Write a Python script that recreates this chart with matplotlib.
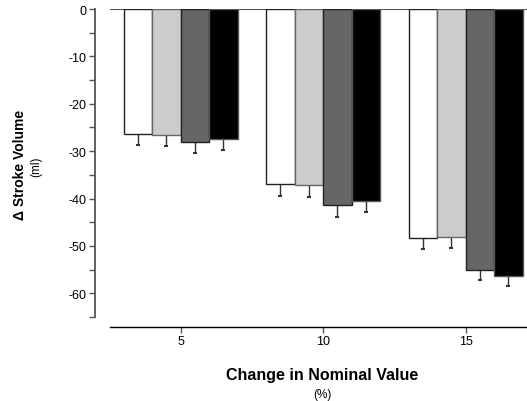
import numpy as np
import matplotlib
matplotlib.use("Agg")
import matplotlib.pyplot as plt
from matplotlib.ticker import MultipleLocator

plt.rcParams['font.family'] = ['Liberation Sans', 'DejaVu Sans']
plt.rcParams['axes.unicode_minus'] = False

# ─── DATA ─────────────────────────────────────────────────────────────────────
categories = [5, 10, 15]
series_values = [
    [-26.4, -37.0, -48.3],    # white
    [-26.5, -37.15, -48.15],  # light gray
    [-28.05, -41.3, -55.0],   # dark gray
    [-27.35, -40.5, -56.4],   # black
]
series_errors = [
    [2.35, 2.5, 2.3],
    [2.5, 2.45, 2.3],
    [2.35, 2.5, 2.1],
    [2.35, 2.35, 2.1],
]
yticks = [0, -10, -20, -30, -40, -50, -60]

# ─── STYLE ────────────────────────────────────────────────────────────────────
fills = ['white', '#cccccc', '#666666', 'black']
edges = ['#222222', '#666666', '#222222', '#555555']
offsets = [-1.5, -0.5, 0.5, 1.5]
BAR_W = 1.0

fig = plt.figure(figsize=(5.27, 4.02), dpi=100)
ax = fig.add_axes([0.2087, 0.209, 0.7913, 0.766])

x = np.array(categories, dtype=float)
ax.axhline(0, color='#555555', lw=1.5, zorder=1)
for vals, errs, fc, ec, off in zip(series_values, series_errors, fills, edges, offsets):
    ax.bar(x + off, vals, width=BAR_W, color=fc, edgecolor=ec, linewidth=1.0, zorder=2)
    ax.errorbar(x + off, vals, yerr=[errs, [0] * len(errs)], fmt='none',
                ecolor='#333333', elinewidth=1.0, capsize=1.2, capthick=1.5, zorder=1)

ax.set_xlim(2.52, 17.15)
ax.set_ylim(-65, 0)
ax.set_xticks(categories)
ax.set_yticks(yticks)
ax.yaxis.set_minor_locator(MultipleLocator(5))

for s in ('top', 'right'):
    ax.spines[s].set_visible(False)
ax.spines['left'].set_position(('outward', 11))
ax.spines['bottom'].set_position(('outward', 7))
ax.spines['left'].set_color('#555555')
ax.spines['left'].set_linewidth(1.3)
ax.spines['bottom'].set_linewidth(1.0)
ax.tick_params(axis='both', which='major', labelsize=9, length=4, width=1, color='#555555', pad=2)
ax.tick_params(axis='y', which='minor', length=4, width=1, color='#555555')

fig.text(0.038, 0.59, '\u0394 Stroke Volume', rotation=90, fontsize=10,
         fontweight='bold', ha='center', va='center')
fig.text(0.068, 0.585, '(ml)', rotation=90, fontsize=8.5, ha='center', va='center')
fig.text(0.611, 0.065, 'Change in Nominal Value', fontsize=11.5,
         fontweight='bold', ha='center', va='center')
fig.text(0.611, 0.018, '(%)', fontsize=8.5, ha='center', va='center')

fig.savefig('out.png', dpi=100)
